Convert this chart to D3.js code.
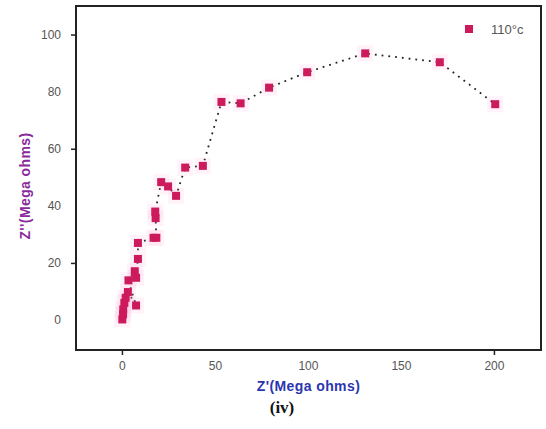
<!DOCTYPE html>
<html>
<head>
<meta charset="utf-8">
<script src="https://cdn.jsdelivr.net/npm/d3@7"></script>
<style>
  body { margin: 0; background: #fff; }
  svg { display: block; }
</style>
</head>
<body>
<div id="chart"></div>
<script>
// Z' and Z'' values (Mega ohms), in drawing order
const zReal = [0.2, 0.6, 0.7, 1.3, 2.0, 3.2, 7.6, 3.5, 6.9, 7.6, 8.6, 8.6, 17.0, 18.5, 18.1, 17.9,
  21.1, 24.8, 29.1, 34.0, 43.5, 53.5, 63.8, 79.1, 99.6, 130.8, 170.9, 200.7];
const zImag = [0.2, 2.0, 3.7, 6.0, 7.8, 9.8, 5.1, 13.9, 17.1, 14.8, 21.4, 27.0, 28.8, 28.8, 35.7, 38.0,
  48.3, 46.8, 43.5, 53.4, 54.0, 76.4, 75.9, 81.4, 86.8, 93.4, 90.3, 75.6];
const xTicks = [0, 50, 100, 150, 200];
const yTicks = [0, 20, 40, 60, 80, 100];
const seriesName = '110°c';

const width = 546, height = 429;
const frame = { left: 76, top: 6, right: 541, bottom: 350 };

const svg = d3.select('#chart')
  .append('svg')
  .attr('width', width)
  .attr('height', height);

const x = d3.scaleLinear().domain([-24.7, 225.3]).range([frame.left, frame.right]);
const y = d3.scaleLinear().domain([-10.5, 110]).range([frame.bottom, frame.top]);

const points = zReal.map((v, i) => ({ x: v, y: zImag[i] }));

// dotted connecting line
const line = d3.line().x(d => x(d.x)).y(d => y(d.y));
svg.append('path')
  .datum(points)
  .attr('d', line)
  .attr('fill', 'none')
  .attr('stroke', '#222')
  .attr('stroke-width', 1.8)
  .attr('stroke-dasharray', '1.8,5');

// faint halo (blur of the original scan)
svg.append('g')
  .selectAll('rect')
  .data(points)
  .join('rect')
  .attr('x', d => x(d.x) - 8)
  .attr('y', d => y(d.y) - 8)
  .attr('width', 16)
  .attr('height', 16)
  .attr('fill', '#ff9ccc')
  .attr('opacity', 0.12);

// markers
svg.append('g')
  .selectAll('rect')
  .data(points)
  .join('rect')
  .attr('x', d => x(d.x) - 4)
  .attr('y', d => y(d.y) - 4)
  .attr('width', 8)
  .attr('height', 8)
  .attr('fill', '#cc1a5c');

// frame
svg.append('rect')
  .attr('x', frame.left)
  .attr('y', frame.top)
  .attr('width', frame.right - frame.left)
  .attr('height', frame.bottom - frame.top)
  .attr('fill', 'none')
  .attr('stroke', '#222')
  .attr('stroke-width', 2);

// axes
const xAxis = svg.append('g')
  .attr('transform', `translate(0,${frame.bottom})`)
  .call(d3.axisBottom(x).tickValues(xTicks).tickSize(5).tickPadding(6).tickFormat(d3.format('d')));
const yAxis = svg.append('g')
  .attr('transform', `translate(${frame.left},0)`)
  .call(d3.axisLeft(y).tickValues(yTicks).tickSize(5).tickPadding(10).tickFormat(d3.format('d')));

[xAxis, yAxis].forEach(g => {
  g.select('.domain').remove();
  g.selectAll('line').attr('stroke', '#222').attr('stroke-width', 1.5);
  g.selectAll('text')
    .attr('fill', '#555')
    .style('font-family', 'Arial, "Liberation Sans", sans-serif')
    .style('font-size', '12px');
});
// only some ticks are visible in the scan
xAxis.selectAll('.tick line').attr('opacity', d => (d === 0 || d === 200 ? 1 : 0));
yAxis.selectAll('.tick line').attr('opacity', d => (d % 40 === 20 ? 1 : 0));

// axis titles
svg.append('text')
  .attr('x', (frame.left + frame.right) / 2)
  .attr('y', 391)
  .attr('text-anchor', 'middle')
  .attr('fill', '#2b35b0')
  .style('font-family', 'Arial, "Liberation Sans", sans-serif')
  .style('font-size', '14px')
  .style('font-weight', 'bold')
  .style('letter-spacing', '0.4px')
  .text("Z'(Mega ohms)");

svg.append('text')
  .attr('transform', `translate(30,186) rotate(-90)`)
  .attr('text-anchor', 'middle')
  .attr('fill', '#8a2a9c')
  .style('font-family', 'Arial, "Liberation Sans", sans-serif')
  .style('font-size', '14px')
  .style('font-weight', 'bold')
  .style('letter-spacing', '0.4px')
  .text("Z''(Mega ohms)");

// legend
const legend = svg.append('g').attr('transform', 'translate(469,29)');
legend.append('rect')
  .attr('x', -4).attr('y', -4)
  .attr('width', 8).attr('height', 8)
  .attr('fill', '#cc1a5c');
legend.append('text')
  .attr('x', 22)
  .attr('y', 5)
  .attr('fill', '#555')
  .style('font-family', 'Arial, "Liberation Sans", sans-serif')
  .style('font-size', '13px')
  .text(seriesName);

// panel label
svg.append('text')
  .attr('x', 282)
  .attr('y', 413)
  .attr('text-anchor', 'middle')
  .attr('fill', '#111')
  .style('font-family', '"Liberation Serif", "Times New Roman", serif')
  .style('font-size', '17px')
  .style('font-weight', 'bold')
  .text('(iv)');
</script>
</body>
</html>
